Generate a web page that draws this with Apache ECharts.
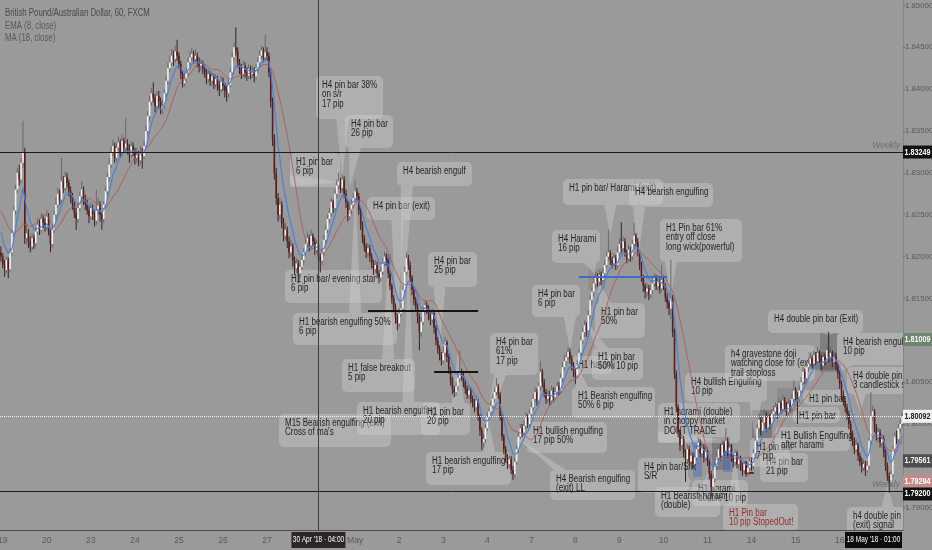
<!DOCTYPE html>
<html><head><meta charset="utf-8">
<script src="https://cdn.jsdelivr.net/npm/echarts@6/dist/echarts.min.js"></script>
<style>html,body{margin:0;padding:0;background:#9a9a9a;}#c{width:932px;height:550px;}</style>
</head><body><div id="c"></div>
<script>
// ---- data (hourly GBP/AUD candles; values in pips above 1.80000) ----
const tradingDays = ['04-19','04-20','04-23','04-24','04-25','04-26','04-27','04-30','05-01','05-02','05-03','05-04','05-07','05-08','05-09','05-10','05-11','05-14','05-15','05-16','05-17'];
const earlierClosePips = [262,270,275,268,272,280,276,270,265,258,262,255,248,240,232,225,212];
const openPips = [205,200,190,184,196,185,205,228,255,280,300,292,312,325,222,228,218,212,222,216,230,238,232,245,240,236,248,230,215,232,250,262,275,268,290,282,295,288,278,270,262,252,245,258,272,280,268,262,255,248,258,250,243,255,262,250,245,262,278,295,310,325,332,318,330,336,325,338,330,335,328,322,332,326,318,322,315,325,320,332,350,368,385,395,390,380,392,385,376,380,395,410,425,432,440,436,445,440,430,418,407,412,420,432,438,442,436,440,432,428,430,425,420,412,418,410,415,406,412,405,400,410,404,398,395,405,420,438,450,445,432,425,418,428,420,416,424,418,422,415,425,432,440,446,438,444,440,420,385,340,300,270,250,262,240,225,232,218,205,212,195,186,192,180,188,196,205,215,222,212,225,218,208,215,200,195,205,220,232,245,252,265,258,275,285,290,282,292,275,265,248,255,262,270,278,272,255,238,222,212,205,210,200,192,185,190,180,175,182,192,200,196,180,165,150,140,128,120,132,138,160,182,198,190,175,160,148,140,128,110,122,135,142,138,130,125,132,115,100,90,82,76,85,98,80,65,52,42,38,45,55,62,58,50,42,35,40,30,25,20,28,10,-8,-22,-18,-5,8,15,22,30,38,45,35,10,-15,-30,-40,-48,-42,-55,-60,-45,-30,-15,-5,-10,-2,8,0,12,20,30,38,28,45,62,50,38,30,35,28,40,32,38,45,40,55,68,75,80,86,78,70,62,58,70,85,100,110,118,112,130,148,158,168,175,170,178,172,180,190,200,205,196,192,198,190,205,215,210,218,205,198,208,200,215,225,218,205,190,175,165,158,162,155,160,168,174,165,170,162,172,165,152,145,138,150,110,60,20,-10,-25,-18,-35,-42,-30,-45,-38,-48,-40,-30,-22,-35,-28,-40,-32,-45,-60,-75,-65,-50,-40,-30,-38,-25,-32,-20,-35,-28,-40,-45,-35,-48,-42,-50,-55,-48,-58,-52,-45,-50,-35,-20,-5,5,-8,2,10,-5,8,0,12,15,20,12,25,18,28,22,15,24,20,30,40,35,30,40,50,62,55,68,72,78,72,82,75,85,78,70,80,76,88,80,85,74,80,70,60,48,35,28,20,12,0,-12,-20,-30,-25,-38,-45,-52,-48,-55,-50,-20,10,15,-5,-15,-10,-22,-18,-35,-50,-62,-70,-60,-30,-15,-18,-5,0];
const highPips = [212,204,196,200,199,210,232,260,286,306,310,318,362,330,240,233,224,228,226,236,246,244,252,250,246,256,252,234,238,255,270,282,280,318,296,302,300,292,284,276,266,258,264,278,290,284,274,268,260,265,262,256,280,270,266,254,266,284,300,318,332,340,336,336,344,340,346,342,366,340,334,338,336,330,330,326,332,330,338,356,374,392,402,408,394,398,398,390,388,400,416,432,440,448,446,452,459,444,434,422,420,426,438,445,450,446,448,444,438,436,434,430,424,424,422,420,418,418,416,410,416,414,408,404,412,426,444,456,474,450,436,430,434,432,426,430,428,428,426,430,438,446,452,450,465,450,444,424,390,346,306,276,270,266,246,240,236,224,220,216,200,198,196,194,202,210,222,230,226,232,228,222,220,218,204,210,226,238,250,258,270,268,280,292,300,294,298,296,280,268,262,268,276,291,282,276,258,242,226,216,216,214,204,196,196,194,184,188,198,206,204,198,184,168,154,144,132,138,144,166,188,205,202,194,178,164,152,144,132,128,140,148,146,142,134,138,136,118,104,94,86,92,104,100,84,68,56,46,50,62,88,66,62,54,46,45,44,34,30,34,30,12,-4,-12,0,14,20,28,36,44,55,48,38,12,-12,-26,-36,-38,-38,-50,-40,-26,-10,0,0,4,14,12,18,26,36,44,42,50,75,66,54,42,40,40,46,44,44,50,50,60,74,82,86,92,90,82,74,66,76,90,106,116,124,122,136,154,164,174,182,180,184,182,186,196,206,232,208,200,204,202,212,222,241,224,222,208,214,212,220,240,228,222,208,194,178,168,168,166,166,174,180,178,176,174,190,176,168,156,148,196,154,114,64,24,-6,-12,-14,-30,-24,-26,-32,-34,-34,-25,-16,-18,-22,-24,-26,-28,-42,-56,-60,-46,-35,-25,-24,-20,-20,-5,-16,-22,-24,-36,-30,-32,-38,-38,-46,-44,-44,-46,-40,-40,-30,-15,0,12,8,8,17,14,14,12,18,22,26,24,30,28,34,32,26,30,28,36,52,44,38,46,56,68,66,74,78,85,82,88,86,92,88,82,86,84,95,110,92,88,86,84,74,64,52,40,32,24,16,4,-8,-16,-18,-22,-34,-40,-42,-44,-44,-15,38,22,18,0,-4,-6,-12,-14,-30,-46,-58,-55,-26,-10,-8,0,6,14];
const lowPips = [194,186,176,180,174,182,201,224,250,276,285,288,306,215,214,210,205,208,209,212,226,226,228,234,230,232,225,205,211,228,246,258,262,264,276,278,282,272,264,256,246,232,240,254,266,262,256,250,240,244,244,236,238,250,242,232,240,258,274,290,306,320,312,314,326,318,320,324,326,322,312,318,320,310,312,308,310,305,316,328,345,362,380,384,372,376,378,370,370,376,390,405,420,428,428,432,434,424,412,402,403,408,416,428,434,430,432,426,420,422,418,414,406,408,404,404,400,402,398,392,396,398,390,385,390,402,416,434,440,426,418,412,414,414,410,412,412,414,408,412,420,428,436,432,434,434,414,378,332,292,262,242,244,234,218,220,210,198,200,188,178,180,168,174,184,190,200,210,206,208,212,202,204,194,181,190,200,216,228,240,248,252,254,270,280,276,278,270,258,242,244,250,258,266,266,250,232,216,206,198,200,194,186,178,180,174,168,170,178,188,190,174,160,144,134,120,112,116,128,134,156,178,184,170,154,142,134,120,88,104,118,130,132,124,118,120,108,94,84,76,70,72,80,74,60,46,36,32,34,40,50,52,44,36,30,30,25,20,14,16,4,-14,-31,-28,-22,-8,4,10,18,26,34,30,4,-20,-36,-46,-54,-52,-60,-67,-64,-48,-34,-18,-16,-14,-6,-5,-4,8,16,26,22,24,40,44,32,24,25,22,24,26,28,34,34,36,50,64,70,76,72,64,56,48,54,66,80,96,104,104,108,126,142,152,162,164,165,166,168,176,186,195,190,186,188,184,186,200,204,206,200,192,194,194,196,210,212,200,184,170,158,150,152,148,150,155,164,160,160,156,158,160,146,138,130,125,104,54,14,-16,-32,-30,-40,-69,-46,-50,-50,-54,-52,-44,-34,-40,-40,-46,-44,-50,-66,-87,-80,-70,-55,-45,-44,-42,-38,-36,-40,-40,-45,-52,-50,-53,-54,-56,-62,-60,-63,-62,-56,-56,-54,-40,-25,-10,-14,-12,-3,-10,-8,-6,-4,6,10,6,8,12,14,16,10,10,14,16,26,28,0,26,36,46,48,50,62,66,66,68,70,70,72,64,66,70,72,74,76,68,70,64,54,42,28,22,14,5,-6,-18,-26,-36,-34,-44,-50,-58,-56,-62,-58,-54,-24,4,-10,-20,-20,-28,-28,-40,-56,-68,-82,-74,-64,-34,-24,-22,-10,-4];
const closePips = [200,190,184,196,185,205,228,255,280,300,292,312,325,222,228,218,212,222,216,230,238,232,245,240,236,248,230,215,232,250,262,275,268,290,282,295,288,278,270,262,252,245,258,272,280,268,262,255,248,258,250,243,255,262,250,245,262,278,295,310,325,332,318,330,336,325,338,330,335,328,322,332,326,318,322,315,325,320,332,350,368,385,395,390,380,392,385,376,380,395,410,425,432,440,436,445,440,430,418,407,412,420,432,438,442,436,440,432,428,430,425,420,412,418,410,415,406,412,405,400,410,404,398,395,405,420,438,450,445,432,425,418,428,420,416,424,418,422,415,425,432,440,446,438,444,440,420,385,340,300,270,250,262,240,225,232,218,205,212,195,186,192,180,188,196,205,215,222,212,225,218,208,215,200,195,205,220,232,245,252,265,258,275,285,290,282,292,275,265,248,255,262,270,278,272,255,238,222,212,205,210,200,192,185,190,180,175,182,192,200,196,180,165,150,140,128,120,132,138,160,182,198,190,175,160,148,140,128,110,122,135,142,138,130,125,132,115,100,90,82,76,85,98,80,65,52,42,38,45,55,62,58,50,42,35,40,30,25,20,28,10,-8,-22,-18,-5,8,15,22,30,38,45,35,10,-15,-30,-40,-48,-42,-55,-60,-45,-30,-15,-5,-10,-2,8,0,12,20,30,38,28,45,62,50,38,30,35,28,40,32,38,45,40,55,68,75,80,86,78,70,62,58,70,85,100,110,118,112,130,148,158,168,175,170,178,172,180,190,200,205,196,192,198,190,205,215,210,218,205,198,208,200,215,225,218,205,190,175,165,158,162,155,160,168,174,165,170,162,172,165,152,145,138,150,110,60,20,-10,-25,-18,-35,-42,-30,-45,-38,-48,-40,-30,-22,-35,-28,-40,-32,-45,-60,-75,-65,-50,-40,-30,-38,-25,-32,-20,-35,-28,-40,-45,-35,-48,-42,-50,-55,-48,-58,-52,-45,-50,-35,-20,-5,5,-8,2,10,-5,8,0,12,15,20,12,25,18,28,22,15,24,20,30,40,35,30,40,50,62,55,68,72,78,72,82,75,85,78,70,80,76,88,80,85,74,80,70,60,48,35,28,20,12,0,-12,-20,-30,-25,-38,-45,-52,-48,-55,-50,-20,10,15,-5,-15,-10,-22,-18,-35,-50,-62,-70,-60,-30,-15,-18,-5,0,9];
const priceTicks = [1.79,1.795,1.80,1.805,1.81,1.815,1.82,1.825,1.83,1.835,1.84,1.845,1.85];
const weeklyLevels = [1.83249, 1.79200];
const lastPrice = 1.80092;
const priceTags = [
  {v:1.83249, bg:'#111111', fg:'#ffffff', dy:0},
  {v:1.81009, bg:'#6f856f', fg:'#f4f4f4', dy:0},
  {v:1.80092, bg:'#f0f0f0', fg:'#222222', dy:0},
  {v:1.79561, bg:'#4d4d4d', fg:'#f4f4f4', dy:0},
  {v:1.79294, bg:'#c48a8a', fg:'#ffffff', dy:-2},
  {v:1.79200, bg:'#111111', fg:'#ffffff', dy:3}
];
// short drawn levels [fromBar, toBar, price]
const blackSegments = [[200,260,1.81357],[236,260,1.80622]];
const blueSegments = [[315,363,1.81757]];
const crosshairBar = 173;
const notes = [
 {t:"M15 Bearish engulfing (exit)\nCross of ma's", b:[279,414,112,33]},
 {t:'H1 false breakout\n5 pip', b:[342,359,73,33], at:[211,198]},
 {t:'H1 pin bar/ evening star\n6 pip', b:[285,270,97,33]},
 {t:'H1 bearish engulfing 50%\n6 pip', b:[293,313,104,32], at:[193,280]},
 {t:'H1 bearish engulfing\n20 pip', b:[357,402,83,33], at:[222,198]},
 {t:'H1 pin bar\n20 pip', b:[421,403,49,32], at:[249,86]},
 {t:'H4 pin bar 38%\non s/r\n17 pip', b:[316,76,67,43], at:[186,292]},
 {t:'H4 pin bar\n26 pip', b:[345,115,48,33], at:[190,283]},
 {t:'H1 pin bar\n6 pip', b:[290,153,50,34], at:[184,289]},
 {t:'H4 pin bar (exit)', b:[367,197,68,23], at:[216,106]},
 {t:'H4 bearish engulf', b:[397,162,75,24], at:[218,124]},
 {t:'H4 pin bar\n25 pip', b:[428,252,49,35], at:[239,94]},
 {t:'H4 pin bar\n61%\n17 pip', b:[490,333,48,42], at:[264,-7]},
 {t:'H1 bearish engulfing\n17 pip', b:[426,452,85,33], at:[266,-1]},
 {t:'H4 Bearish engulfing\n(exit) LL', b:[550,470,85,30], at:[283,-19]},
 {t:'H1 bullish engulfing\n17 pip 50%', b:[527,422,80,31], at:[280,-19]},
 {t:'H1 harami', b:[572,356,40,18]},
 {t:'H1 Bearish engulfing\n50% 6 pip', b:[572,387,83,31], at:[313,74]},
 {t:'H1 pin bar\n50% 10 pip', b:[592,348,51,32], at:[319,122]},
 {t:'H4 pin bar\n6 pip', b:[532,285,48,32], at:[310,88]},
 {t:'H4 Harami\n16 pip', b:[552,230,48,33], at:[324,178]},
 {t:'H1 pin bar\n50%', b:[595,303,50,35], at:[325,172]},
 {t:'H1 pin bar/ Harami (exit)', b:[563,179,100,26], at:[332,226]},
 {t:'H4 bearish engulfing', b:[629,183,84,24], at:[347,194]},
 {t:'H1 Pin bar 61%\nentry off close\nlong wick(powerful)', b:[660,219,82,43], at:[365,152]},
 {t:'H4 bullish Engulfing\n10 pip', b:[685,373,82,29], at:[411,-19]},
 {t:'H1 harami (double)\nin choppy market\nDONT TRADE', b:[658,403,82,40], at:[392,-19]},
 {t:'H4 pin bar/S/R\nS/R', b:[638,458,50,35], at:[376,-69]},
 {t:'H1 harami\ndouble 10 pip', b:[692,480,56,26]},
 {t:'H1 Bearish harami\n(double)', b:[655,487,65,30], at:[385,-57]},
 {t:'H1 Pin bar\n10 pip StopedOut!', b:[723,504,75,27], at:[400,-27], red:true},
 {t:'h4 gravestone doji\nwatching close for (exit)\ntrail stoploss', b:[725,345,90,36], at:[444,86]},
 {t:'H4 double pin bar (Exit)', b:[768,310,95,23], at:[451,106]},
 {t:'H4 pin bar\n21 pip', b:[760,453,48,29]},
 {t:'H1 pin bar\n7 pip', b:[750,438,40,29]},
 {t:'H1 Bullish Engulfing\nafter harami', b:[775,427,75,24]},
 {t:'H1 pin bar', b:[793,407,47,16]},
 {t:'H1 pin bar', b:[803,390,44,15]},
 {t:'H4 bearish engulf\n10 pip', b:[837,333,80,32], at:[457,62]},
 {t:'H4 double pin bar\n3 candlestick signal', b:[847,367,80,27], at:[468,14]},
 {t:'h4 double pin bar\n(exit) signal', b:[847,507,80,28], at:[483,-72]}
];
const shades = [
 {r:[384,254,7,12], c:'rgba(60,100,200,0.45)'},
 {r:[588,268,17,22], c:'rgba(150,120,100,0.35)'},
 {r:[693,440,9,37], c:'rgba(60,100,200,0.4)'},
 {r:[707,477,6,26], c:'rgba(60,100,200,0.4)'},
 {r:[712,437,18,33], c:'rgba(70,70,70,0.35)'},
 {r:[723,444,10,28], c:'rgba(60,100,200,0.4)'},
 {r:[752,410,20,28], c:'rgba(70,70,70,0.35)'},
 {r:[777,388,20,24], c:'rgba(110,110,110,0.3)'},
 {r:[808,352,29,18], c:'rgba(70,70,70,0.35)'},
 {r:[820,333,17,39], c:'rgba(70,70,70,0.3)'}
];

// ---- build ----
const FONT = "'Liberation Sans', Arial, sans-serif";
const P = v => +(1.8 + v / 10000).toFixed(5);
const categories = ['2018-04-18 23:00'];
for (const d of tradingDays) for (let h = 0; h < 24; h++) categories.push('2018-' + d + ' ' + String(h).padStart(2, '0') + ':00');
categories.length = closePips.length;
const rows = closePips.map((c, i) => [i, P(openPips[i]), P(c), P(lowPips[i]), P(highPips[i])]);
const allClose = earlierClosePips.concat(closePips).map(P);
const pre = earlierClosePips.length;
const ema = [], sma = [];
let e = allClose[0];
const k = 2 / (8 + 1);
for (let j = 0; j < allClose.length; j++) {
  e = j === 0 ? allClose[0] : allClose[j] * k + e * (1 - k);
  if (j >= pre) {
    ema.push(+e.toFixed(5));
    let s = 0; for (let q = j - 17; q <= j; q++) s += allClose[q];
    sma.push(+(s / 18).toFixed(5));
  }
}
const isDayStart = (idx, val) => typeof val === 'string' ? val.endsWith(' 00:00') : categories[idx].endsWith(' 00:00');
const dayLabel = val => {
  const md = val.slice(5, 10);
  if (md === '04-30') return '';
  if (md === '05-01') return 'May';
  return String(parseInt(val.slice(8, 10), 10));
};
const chart = echarts.init(document.getElementById('c'), null, {renderer: 'canvas'});
const segLines = (list, color, width) => list.map(s => [
  {coord: [categories[s[0]], s[2]], lineStyle: {color: color, width: width, type: 'solid'}, label: {show: false}},
  {coord: [categories[s[1]], s[2]]}
]);
const weeklyLabel = {show: true, position: 'insideEndTop', formatter: 'Weekly', color: '#6e6e6e', fontStyle: 'italic', fontSize: 8.5, fontFamily: FONT, distance: [3, 2]};
chart.setOption({
  animation: false,
  backgroundColor: '#9a9a9a',
  grid: {left: 0, right: 29, top: 0, bottom: 20, outerBoundsMode: 'none', containLabel: false},
  xAxis: {
    type: 'category', data: categories, boundaryGap: true, z: 5,
    axisLine: {lineStyle: {color: '#4a4a4a', width: 1}},
    axisTick: {interval: isDayStart, alignWithLabel: true, length: 3, lineStyle: {color: '#6a6a6a'}},
    axisLabel: {interval: isDayStart, formatter: dayLabel, color: '#5a5a5a', fontSize: 8.5, fontFamily: FONT, margin: 6},
    splitLine: {show: false}
  },
  yAxis: {
    type: 'value', position: 'right', min: 1.78734, max: 1.85065, scale: true, z: 5,
    axisLine: {show: true, lineStyle: {color: '#858585'}},
    axisTick: {show: true, length: 2, customValues: priceTicks, lineStyle: {color: '#6a6a6a'}},
    axisLabel: {customValues: priceTicks, formatter: v => v.toFixed(5), color: '#5a5a5a', fontSize: 7.8, fontFamily: FONT, margin: 2},
    splitLine: {show: false}
  },
  series: [
    {
      type: 'custom', name: 'GBPAUD', data: rows, z: 2, clip: true,
      encode: {x: 0, y: [1, 2, 3, 4]},
      renderItem: (params, api) => {
        const i = api.value(0), o = api.value(1), c = api.value(2), l = api.value(3), h = api.value(4);
        const pO = api.coord([i, o]), pC = api.coord([i, c]), pL = api.coord([i, l]), pH = api.coord([i, h]);
        const up = c >= o;
        const x = pO[0];
        const top = Math.min(pO[1], pC[1]);
        const ht = Math.max(1, Math.abs(pO[1] - pC[1]));
        return {type: 'group', children: [
          {type: 'line', shape: {x1: x, y1: pH[1], x2: x, y2: pL[1]}, style: {stroke: up ? '#6a6a6a' : '#3a2020', lineWidth: 1}},
          {type: 'rect', shape: {x: x - 0.8, y: top, width: 1.6, height: ht}, style: {fill: up ? '#f4f4f4' : '#5c1c1c'}}
        ]};
      }
    },
    {
      type: 'line', name: 'MA (18, close)', data: sma, showSymbol: false, z: 3,
      lineStyle: {color: '#b05858', width: 1, opacity: 0.85}
    },
    {
      type: 'line', name: 'EMA (8, close)', data: ema, showSymbol: false, z: 4,
      lineStyle: {color: '#4f80d6', width: 1.2},
      markLine: {
        silent: true, symbol: 'none', animation: false, precision: 5,
        data: [
          {yAxis: weeklyLevels[0], lineStyle: {color: '#1c1c1c', width: 1, type: 'solid'}, label: weeklyLabel},
          {yAxis: weeklyLevels[1], lineStyle: {color: '#1c1c1c', width: 1, type: 'solid'}, label: weeklyLabel},
          {yAxis: lastPrice, lineStyle: {color: '#eeeeee', width: 1, type: 'dotted'}, label: {show: false}},
          {xAxis: categories[crosshairBar], lineStyle: {color: '#3c3c3c', width: 1, type: 'solid'}, label: {show: false}},
          ...segLines(blackSegments, '#151515', 2),
          ...segLines(blueSegments, '#3a6cc8', 2)
        ]
      }
    }
  ]
});

// ---- drawings (callouts etc.) ----
const toPx = (i, v) => chart.convertToPixel({xAxisIndex: 0, yAxisIndex: 0}, [i, P(v)]);
const clamp = (a, lo, hi) => Math.max(lo, Math.min(hi, a));
function tailPts(b, t) {
  const [x, y, w, h] = b; const hw = 6;
  const [tx, ty] = t;
  if (ty > y + h) { const cx = clamp(tx, x + hw + 4, x + w - hw - 4); return [[cx - hw, y + h], [cx + hw, y + h], [tx, ty]]; }
  if (ty < y) { const cx = clamp(tx, x + hw + 4, x + w - hw - 4); return [[cx - hw, y], [cx + hw, y], [tx, ty]]; }
  const cy = clamp(ty, y + hw, y + h - hw);
  if (tx > x + w) return [[x + w, cy - hw], [x + w, cy + hw], [tx, ty]];
  return [[x, cy - hw], [x, cy + hw], [tx, ty]];
}
const els = [];
shades.forEach(s => {
  els.push({type: 'rect', z: 1, shape: {x: s.r[0], y: s.r[1], width: s.r[2], height: s.r[3]}, style: {fill: s.c}});
});
const fillC = 'rgba(208,208,208,0.4)';
notes.forEach((n, idx) => {
  const z = 1.1 + idx * 0.01;
  const [x, y, w, h] = n.b;
  if (n.at) {
    const t = toPx(n.at[0], n.at[1]);
    els.push({type: 'polygon', z: z, shape: {points: tailPts(n.b, t)}, style: {fill: fillC}});
  }
  els.push({type: 'rect', z: z, shape: {x: x, y: y, width: w, height: h, r: 5}, style: {fill: fillC}});
  els.push({type: 'text', z: z + 0.001, x: x + 6, y: y + 4.5, scaleX: 0.8,
    style: {text: n.t, x: 0, y: 0, fill: n.red ? '#9a2a2a' : '#252525', fontSize: 10, fontFamily: FONT, lineHeight: 9.4, verticalAlign: 'top'}});
});
// "L" mark
els.push({type: 'polyline', z: 1.9, shape: {points: [[746, 462], [746, 473], [754, 473]]}, style: {stroke: '#7a2222', lineWidth: 2, fill: null}});
// covers outside the plot (drawings are clipped by the axes)
els.push({type: 'rect', z: 1.95, shape: {x: 903, y: 0, width: 29, height: 550}, style: {fill: '#9a9a9a'}});
els.push({type: 'rect', z: 1.95, shape: {x: 0, y: 531, width: 932, height: 19}, style: {fill: '#9a9a9a'}});
// legend
[['British Pound/Australian Dollar, 60, FXCM', 13, '#4a4a4a'], ['EMA (8, close)', 26, '#585858'], ['MA (18, close)', 38.5, '#585858']].forEach(l => {
  els.push({type: 'text', z: 6, x: 5, y: l[1], scaleX: 0.78, style: {text: l[0], x: 0, y: 0, fill: l[2], fontSize: 10, fontFamily: FONT, verticalAlign: 'middle'}});
});
// price tags
priceTags.forEach(p => {
  const yy = chart.convertToPixel({yAxisIndex: 0}, p.v) + p.dy;
  els.push({type: 'rect', z: 6, shape: {x: 903, y: yy - 6.5, width: 29, height: 13}, style: {fill: p.bg}});
  els.push({type: 'text', z: 6.1, x: 917.5, y: yy, scaleX: 0.8, style: {text: p.v.toFixed(5), x: 0, y: 0, fill: p.fg, fontSize: 9, fontFamily: FONT, fontWeight: 'bold', align: 'center', verticalAlign: 'middle'}});
});
// time tags
const cx1 = chart.convertToPixel({xAxisIndex: 0}, crosshairBar);
[[cx1, 54, "30 Apr '18 \u00b7 04:00", '#2e2626'], [873.5, 57, "18 May '18 \u00b7 01:00", '#0c0c0c']].forEach(t => {
  els.push({type: 'rect', z: 6, shape: {x: t[0] - t[1] / 2, y: 532, width: t[1], height: 16}, style: {fill: t[3]}});
  els.push({type: 'text', z: 6.1, x: t[0], y: 540, scaleX: 0.72, style: {text: t[2], x: 0, y: 0, fill: '#ffffff', fontSize: 9, fontFamily: FONT, align: 'center', verticalAlign: 'middle'}});
});
chart.setOption({graphic: {elements: els}});
</script>
</body></html>
